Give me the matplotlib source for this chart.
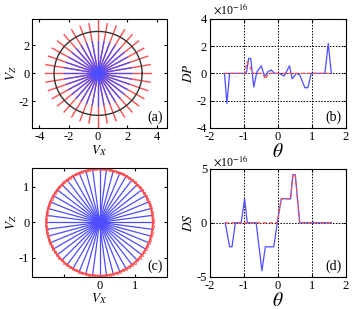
import matplotlib
matplotlib.use("Agg")
import matplotlib.pyplot as plt
import numpy as np

plt.rcParams.update({
    "font.family": "Liberation Serif",
    "mathtext.fontset": "stix",
    "font.size": 9,
    "axes.unicode_minus": False,
    "xtick.direction": "in",
    "ytick.direction": "in",
    "xtick.top": True,
    "ytick.right": True,
    "xtick.major.size": 2.5,
    "ytick.major.size": 2.5,
    "axes.linewidth": 0.8,
})

BLUE = "#4d4dff"
RED = "#ff4d4d"

# panel (a): ray fan and reference circle
N_RAYS_A = 36
R_BLUE_A = 2.3
R_RED_A = 3.6
R_CIRCLE_A = 3.0

# panel (c): ray fan ending on the circle
N_RAYS_C = 48
N_BEADS_C = 96
R_CIRCLE_C = 1.5

# panel (b): DP (x 1e-16) against theta
theta_b_blue = [-1.57, -1.50, -1.42, -1.00, -0.93, -0.86, -0.80, -0.71, -0.62, -0.49,
                -0.39, -0.30, -0.20, -0.10, 0.05, 0.18, 0.34, 0.42, 0.54, 0.64,
                0.79, 0.88, 0.98, 1.38, 1.48, 1.57]
dp_blue = [0.0, -2.2, 0.0, 0.0, 0.0, 1.1, 1.1, -1.0, 0.1, 0.55,
           -0.25, 0.1, 0.25, 0.0, 0.0, -0.2, 0.55, -0.4, 0.0, -0.1,
           -1.05, -1.05, 0.0, 0.0, 2.2, 0.0]
theta_b_red = [-1.57, -0.98, -0.91, -0.83, -0.73, -0.45, -0.36, -0.29, 1.57]
dp_red = [0.0, 0.0, 0.85, 0.5, 0.0, 0.0, -0.42, 0.0, 0.0]

# panel (d): DS (x 1e-16) against theta
theta_d_blue = [-1.55, -1.42, -1.35, -1.25, -1.08, -0.98, -0.90, -0.64, -0.47, -0.37,
                -0.12, -0.02, 0.10, 0.37, 0.44, 0.51, 0.64, 1.57]
ds_blue = [0.0, -2.22, -2.22, 0.0, 0.0, 2.22, 0.0, 0.0, -4.44, -2.22,
           -2.22, 0.0, 2.22, 2.22, 4.44, 4.44, 0.0, 0.0]
theta_d_red = [-1.55, -0.02, 0.10, 0.37, 0.44, 0.51, 0.64, 1.57]
ds_red = [0.0, 0.0, 2.22, 2.22, 4.44, 4.44, 0.0, 0.0]

fig = plt.figure(figsize=(3.6, 3.09), dpi=100)
ax_a = fig.add_axes([0.089, 0.586, 0.375, 0.353])
ax_b = fig.add_axes([0.583, 0.586, 0.378, 0.353])
ax_c = fig.add_axes([0.089, 0.104, 0.375, 0.353])
ax_d = fig.add_axes([0.583, 0.104, 0.378, 0.350])

GRID = dict(color="black", ls=(0, (1.5, 1.5)), lw=0.7)

# (a)
ang = np.linspace(0, 2 * np.pi, N_RAYS_A, endpoint=False)
for t in ang:
    r_out = 4.5 if abs(np.cos(t)) < 1e-6 else R_RED_A
    ax_a.plot([0, r_out * np.cos(t)], [0, r_out * np.sin(t)], color=RED, lw=1.0)
for t in ang:
    ax_a.plot([0, R_BLUE_A * np.cos(t)], [0, R_BLUE_A * np.sin(t)], color=BLUE, lw=0.9)
tc = np.linspace(0, 2 * np.pi, 200)
ax_a.plot(R_CIRCLE_A * np.cos(tc), R_CIRCLE_A * np.sin(tc), color="#333333", lw=1.0)
ax_a.plot(0, 0, marker=(4, 1, 0), color=BLUE, ms=10)
ax_a.set_xlim(-4.5, 4.7)
ax_a.set_ylim(-3.9, 3.9)
ax_a.set_xticks([-4, -2, 0, 2, 4])
ax_a.set_yticks([-2, 0, 2])
ax_a.set_xlabel(r"$V_X$", labelpad=0, fontsize=9.5)
ax_a.set_ylabel(r"$V_Z$", labelpad=0, fontsize=9.5)
ax_a.text(0.97, 0.04, "(a)", transform=ax_a.transAxes, ha="right", va="bottom", fontsize=10)

# (c)
ang = np.linspace(0, 2 * np.pi, N_RAYS_C, endpoint=False)
for t in ang:
    ax_c.plot([0, R_CIRCLE_C * np.cos(t)], [0, R_CIRCLE_C * np.sin(t)], color=BLUE, lw=0.9)
ax_c.plot(R_CIRCLE_C * np.cos(tc), R_CIRCLE_C * np.sin(tc), color=RED, lw=1.4)
beads = np.linspace(0, 2 * np.pi, N_BEADS_C, endpoint=False)
ax_c.plot(R_CIRCLE_C * np.cos(beads), R_CIRCLE_C * np.sin(beads), ls="none", marker="o",
          ms=1.8, mfc="none", mec=RED, mew=0.5)
ax_c.plot(0, 0, marker=(4, 1, 0), color=BLUE, ms=10)
ax_c.set_xlim(-1.9, 1.9)
ax_c.set_ylim(-1.53, 1.53)
ax_c.set_xticks([-1, 0, 1])
ax_c.set_xticklabels(["", "0", "1"])
ax_c.set_yticks([-1, 0, 1])
ax_c.set_xlabel(r"$V_X$", labelpad=0, fontsize=9.5)
ax_c.set_ylabel(r"$V_Z$", labelpad=0, fontsize=9.5)
ax_c.text(0.97, 0.04, "(c)", transform=ax_c.transAxes, ha="right", va="bottom", fontsize=10)

# (b)
ax_b.plot(theta_b_blue, dp_blue, color=BLUE, lw=0.9)
ax_b.plot(theta_b_red, dp_red, color=RED, lw=0.9, ls=(0, (3, 2)))
ax_b.set_xlim(-2, 2)
ax_b.set_ylim(-4, 4)
ax_b.set_xticks([-2, -1, 0, 1, 2])
ax_b.set_yticks([-4, -2, 0, 2, 4])
ax_b.grid(True, **GRID)
ax_b.set_xlabel(r"$\theta$", fontsize=14, labelpad=0)
ax_b.set_ylabel(r"$DP$", labelpad=1, fontsize=9.5)
ax_b.text(0.02, 1.02, r"$\times$10$^{-16}$", transform=ax_b.transAxes, ha="left", va="bottom", fontsize=8.5)
ax_b.text(0.97, 0.04, "(b)", transform=ax_b.transAxes, ha="right", va="bottom", fontsize=10)

# (d)
ax_d.plot(theta_d_blue, ds_blue, color=BLUE, lw=0.9)
ax_d.plot(theta_d_red, ds_red, color=RED, lw=0.9, ls=(0, (3, 2)))
ax_d.set_xlim(-2, 2)
ax_d.set_ylim(-5, 5)
ax_d.set_xticks([-2, -1, 0, 1, 2])
ax_d.set_yticks([-5, 0, 5])
ax_d.grid(True, **GRID)
ax_d.set_xlabel(r"$\theta$", fontsize=14, labelpad=0)
ax_d.set_ylabel(r"$DS$", labelpad=1, fontsize=9.5)
ax_d.text(0.02, 1.0, r"$\times$10$^{-16}$", transform=ax_d.transAxes, ha="left", va="bottom", fontsize=8.5)
ax_d.text(0.97, 0.04, "(d)", transform=ax_d.transAxes, ha="right", va="bottom", fontsize=10)

for ax in (ax_a, ax_b, ax_c, ax_d):
    ax.tick_params(labelsize=9, pad=2)

fig.savefig("out.png", dpi=100)
